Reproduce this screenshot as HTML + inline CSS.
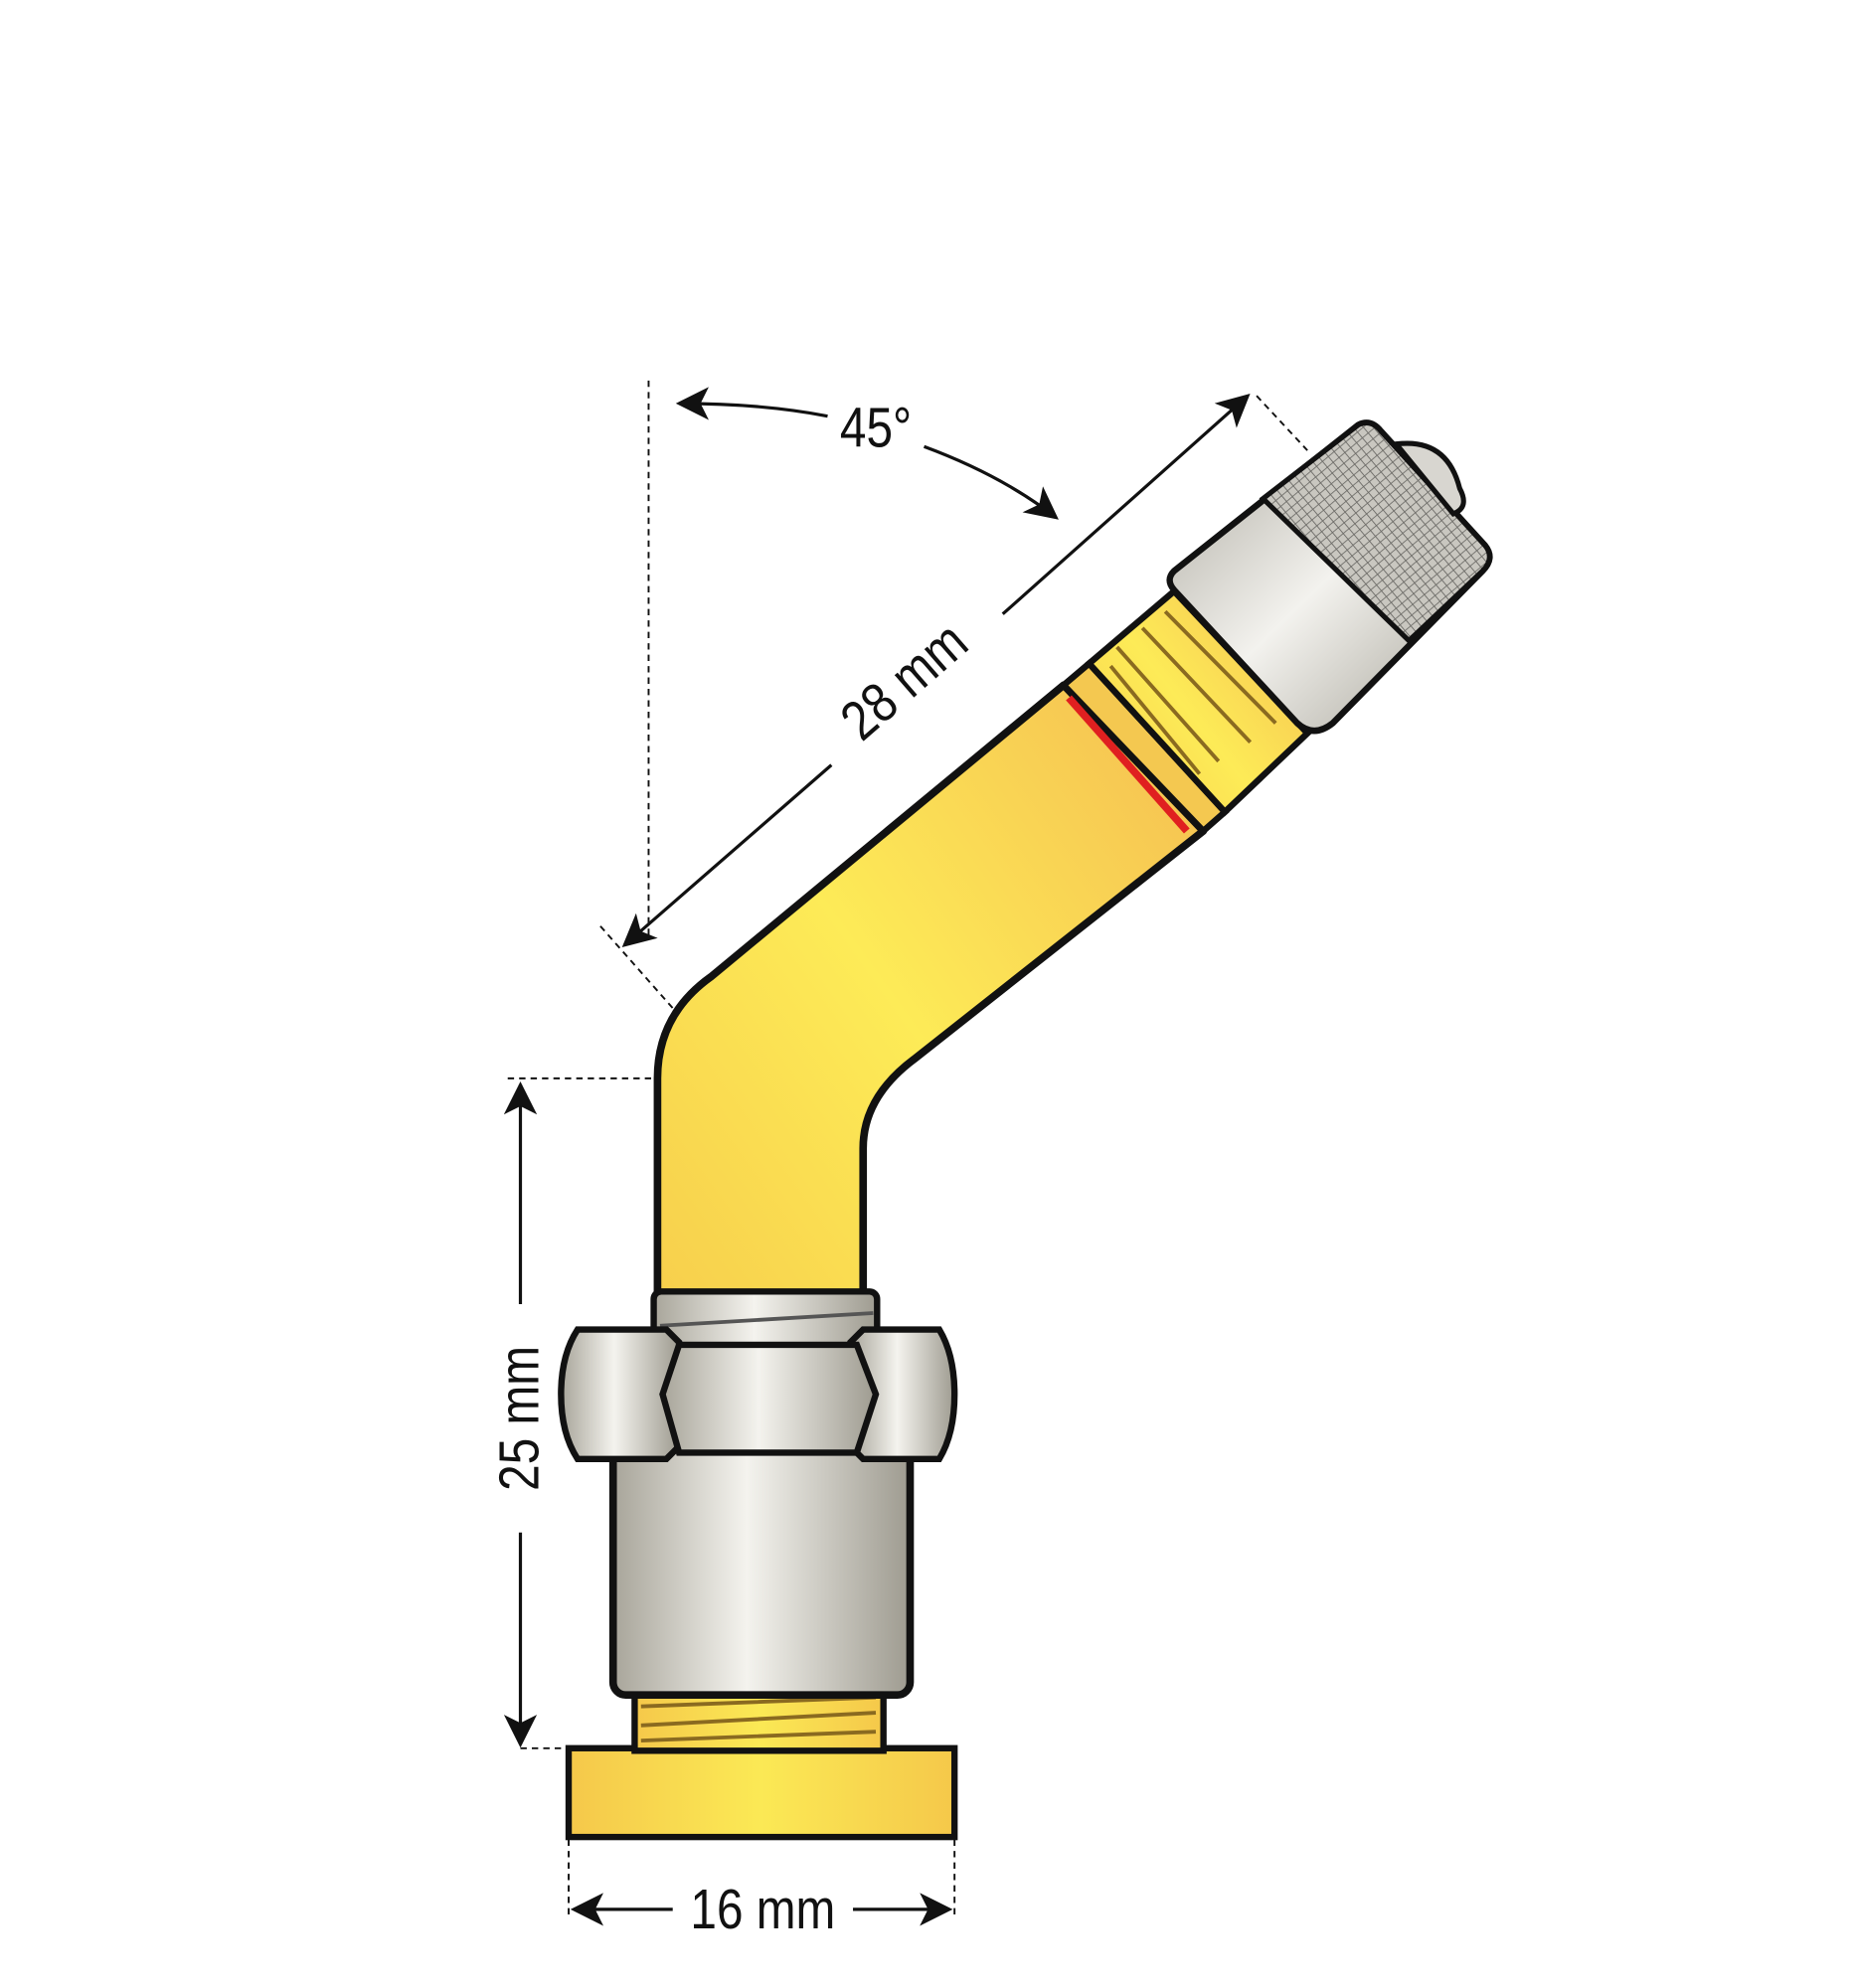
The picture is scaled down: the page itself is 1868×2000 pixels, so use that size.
<!DOCTYPE html>
<html><head><meta charset="utf-8"><style>html,body{margin:0;padding:0;background:#fff}svg{display:block}</style></head><body>
<svg width="1868" height="2000" viewBox="0 0 1463 1567" preserveAspectRatio="none" xmlns="http://www.w3.org/2000/svg">
<defs>
<linearGradient id="yv" x1="0" x2="1" y1="0" y2="0"><stop offset="0" stop-color="#f5c84a"/><stop offset="0.5" stop-color="#fbe955"/><stop offset="1" stop-color="#f5c84a"/></linearGradient>
<linearGradient id="yt" x1="0" y1="1" x2="1" y2="0.2"><stop offset="0" stop-color="#f7cf4c"/><stop offset="0.5" stop-color="#fdeb57"/><stop offset="1" stop-color="#f6c452"/></linearGradient>
<linearGradient id="sv" x1="0" x2="1" y1="0" y2="0"><stop offset="0" stop-color="#a8a59a"/><stop offset="0.45" stop-color="#f4f3ee"/><stop offset="1" stop-color="#9e9b90"/></linearGradient>
<linearGradient id="sc" x1="0" y1="0" x2="1" y2="1"><stop offset="0" stop-color="#a9a69c"/><stop offset="0.5" stop-color="#f3f2ee"/><stop offset="1" stop-color="#a09d92"/></linearGradient>
<pattern id="mesh" width="6" height="6" patternUnits="userSpaceOnUse" patternTransform="rotate(-40)"><rect width="6" height="6" fill="#c9c7c0"/><path d="M0 0H6M0 0V6" stroke="#6b6a66" stroke-width="1.4"/></pattern>
<marker id="ar" viewBox="0 0 10 10" refX="9" refY="5" markerWidth="32" markerHeight="26" orient="auto-start-reverse" markerUnits="userSpaceOnUse"><path d="M0 0L10 5L0 10L2.5 5Z" fill="#111"/></marker>
</defs>
<g fill="none" stroke="#111" stroke-width="1.5" stroke-dasharray="5 4">
<path d="M511 300V740"/><path d="M473 730L570 840"/><path d="M400 850H570"/><path d="M990 312L1030 355"/><path d="M410 1378H448"/><path d="M448 1450V1512M752 1450V1512"/>
</g>
<rect x="448" y="1378" width="304" height="70" fill="url(#yv)" stroke="#111" stroke-width="5"/>
<rect x="500" y="1328" width="196" height="52" fill="url(#yv)" stroke="#111" stroke-width="5"/>
<path d="M505 1345L690 1338M505 1360L690 1350M505 1372L690 1365" stroke="#8a6a20" stroke-width="3"/>
<rect x="483" y="1140" width="234" height="196" rx="10" fill="url(#sv)" stroke="#111" stroke-width="6"/>
<path d="M518 1022V850Q518 800 560 770L838 540L948 655L720 835Q680 865 680 905V1022Z" fill="url(#yt)" stroke="#111" stroke-width="6" stroke-linejoin="round"/>
<rect x="515" y="1018" width="176" height="44" rx="6" fill="url(#sv)" stroke="#111" stroke-width="5"/>
<path d="M520 1045L688 1035" stroke="#555" stroke-width="3"/>
<path d="M455 1048H525L535 1058V1140L525 1150H455Q442 1130 442 1099Q442 1068 455 1048Z" fill="url(#sv)" stroke="#111" stroke-width="5"/>
<path d="M740 1048H680L670 1058V1140L680 1150H740Q752 1130 752 1099Q752 1068 740 1048Z" fill="url(#sv)" stroke="#111" stroke-width="5"/>
<path d="M535 1060H675L690 1099L675 1145H535L522 1099Z" fill="url(#sv)" stroke="#111" stroke-width="5"/>
<path d="M838 540L858 523L965 640L948 655Z" fill="#f4c850" stroke="#111" stroke-width="5"/>
<path d="M842 550L935 655" stroke="#e02020" stroke-width="6"/>
<path d="M858 523L925 466L1030 578L965 640Z" fill="url(#yt)" stroke="#111" stroke-width="5"/>
<g stroke="#8a6a20" stroke-width="3"><path d="M880 510L960 600M900 495L985 585M918 482L1005 570M875 525L945 610"/></g>
<path d="M925 450L1070 335Q1080 330 1088 340L1170 430Q1178 440 1168 450L1050 570Q1035 582 1022 570L925 465Q918 457 925 450Z" fill="url(#sc)" stroke="#111" stroke-width="5"/>
<path d="M995 393L1070 335Q1080 330 1088 340L1170 430Q1178 440 1168 450L1110 505Z" fill="url(#mesh)" stroke="#111" stroke-width="4"/>
<path d="M1100 350Q1140 345 1150 385Q1158 400 1145 405Z" fill="#d8d6d0" stroke="#111" stroke-width="4"/>
<g fill="none" stroke="#111" stroke-width="2.5">
<path d="M535 318Q600 318 652 328" marker-start="url(#ar)"/>
<path d="M728 352Q790 375 832 408" marker-end="url(#ar)"/>
<path d="M492 745L655 603" marker-start="url(#ar)"/>
<path d="M790 484L983 312" marker-end="url(#ar)"/>
<path d="M410 1028V855" marker-end="url(#ar)"/>
<path d="M410 1208V1375" marker-end="url(#ar)"/>
<path d="M530 1505H452" marker-end="url(#ar)"/>
<path d="M672 1505H748" marker-end="url(#ar)"/>
</g>
<g font-family="'Liberation Sans Narrow','Liberation Sans',sans-serif" font-size="44" fill="#111" text-anchor="middle">
<text transform="translate(690 352) scale(0.85 1)">45°</text>
<text transform="translate(722 548) rotate(-41) scale(0.85 1)">28 mm</text>
<text transform="translate(424 1118) rotate(-90) scale(0.85 1)">25 mm</text>
<text transform="translate(601 1520) scale(0.85 1)">16 mm</text>
</g>
</svg>
</body></html>
